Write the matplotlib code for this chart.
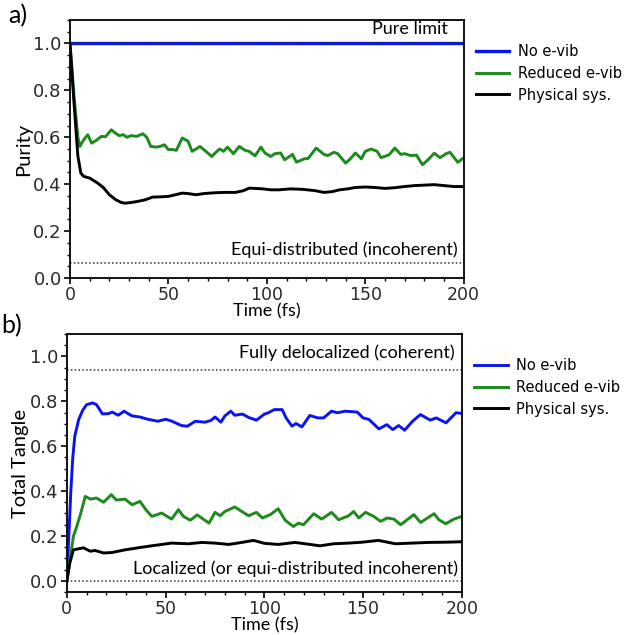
import numpy as np
import matplotlib
matplotlib.use("Agg")
import matplotlib.pyplot as plt
from matplotlib.ticker import MultipleLocator

# panel a) purity
t_pur_none = [0, 200]
pur_none = [1.0, 1.0]

t_pur_red = [0, 2, 4, 5, 7, 9, 11, 13, 16, 18, 21, 23, 25, 27, 29, 31, 34, 37, 39, 41,
             44, 46, 48, 50, 52, 54, 57, 60, 62, 64, 66, 69, 72, 74, 76, 78, 80, 83, 86, 89,
             91, 94, 97, 99, 102, 104, 107, 109, 113, 115, 119, 121, 125, 129, 131, 134, 136, 140, 142, 145,
             148, 150, 153, 156, 158, 162, 165, 168, 170, 173, 176, 179, 182, 185, 188, 191, 193, 197, 200]
pur_red = [1.0, 0.78, 0.60, 0.561, 0.59, 0.611, 0.575, 0.585, 0.604, 0.602,
           0.632, 0.618, 0.607, 0.611, 0.600, 0.607, 0.604, 0.615, 0.60, 0.561,
           0.558, 0.562, 0.568, 0.547, 0.548, 0.544, 0.597, 0.583, 0.540, 0.55,
           0.561, 0.540, 0.518, 0.535, 0.550, 0.540, 0.558, 0.530, 0.561, 0.544,
           0.540, 0.521, 0.558, 0.533, 0.518, 0.530, 0.533, 0.504, 0.527, 0.494,
           0.508, 0.510, 0.554, 0.527, 0.522, 0.536, 0.530, 0.490, 0.505, 0.533,
           0.508, 0.540, 0.550, 0.540, 0.513, 0.525, 0.554, 0.527, 0.530, 0.522,
           0.524, 0.483, 0.505, 0.532, 0.513, 0.530, 0.536, 0.493, 0.513]

t_pur_phys = [0, 2, 4, 5.5, 7, 10, 14, 17, 20, 23, 26, 28, 31, 34, 38, 42, 46, 50, 54, 57,
              60, 64, 68, 71, 75, 79, 84, 88, 91, 94, 98, 102, 106, 112, 118, 124, 129, 133, 137, 141,
              145, 150, 155, 160, 165, 170, 175, 180, 185, 190, 195, 200]
pur_phys = [1.0, 0.75, 0.52, 0.447, 0.433, 0.426, 0.405, 0.385, 0.355, 0.335,
            0.322, 0.319, 0.322, 0.326, 0.333, 0.345, 0.346, 0.348, 0.356, 0.362,
            0.360, 0.355, 0.360, 0.362, 0.364, 0.365, 0.365, 0.372, 0.383, 0.382,
            0.380, 0.376, 0.376, 0.38, 0.378, 0.373, 0.365, 0.368, 0.376, 0.380,
            0.386, 0.388, 0.386, 0.382, 0.385, 0.39, 0.394, 0.396, 0.398, 0.394,
            0.390, 0.390]

# panel b) total tangle
t_tan_none = [0, 1, 2, 3, 4, 6, 8, 10, 13, 15, 18, 21, 23, 26, 29, 31, 33, 37, 41, 44,
              46, 50, 53, 55, 58, 61, 65, 70, 73, 75, 78, 80, 83, 85, 89, 92, 96, 100, 102, 105,
              109, 111, 114, 116, 119, 123, 127, 130, 134, 137, 141, 147, 150, 153, 158, 162, 165, 168, 171, 175,
              179, 184, 187, 192, 197, 200]
tan_none = [0.0, 0.2, 0.4, 0.55, 0.644, 0.719, 0.76, 0.785, 0.793, 0.785,
            0.744, 0.745, 0.752, 0.738, 0.756, 0.745, 0.735, 0.73, 0.72, 0.715,
            0.711, 0.72, 0.712, 0.704, 0.692, 0.689, 0.711, 0.707, 0.715, 0.73,
            0.707, 0.735, 0.756, 0.738, 0.743, 0.728, 0.716, 0.743, 0.749, 0.763,
            0.763, 0.726, 0.689, 0.701, 0.686, 0.737, 0.726, 0.726, 0.756, 0.749,
            0.756, 0.752, 0.726, 0.719, 0.677, 0.696, 0.674, 0.692, 0.671, 0.711,
            0.741, 0.716, 0.726, 0.704, 0.749, 0.746]

t_tan_red = [0, 2, 3.3, 5, 7, 9.3, 12, 15, 18.6, 22.5, 25, 29.5, 33, 37, 40, 43, 48, 53, 56.5, 59,
             62.5, 66, 69, 72, 75, 77.6, 80, 85, 88.6, 92, 96, 99, 103, 107, 110.5, 114.7, 117.3, 119.8, 125, 129,
             134, 137.6, 142.7, 145.2, 147.8, 151.2, 155.4, 158.8, 162.2, 165.6, 169, 175.7, 179.1, 181.7, 185.9,
             188.4, 191.8, 196, 200]
tan_red = [0.0, 0.12, 0.198, 0.242, 0.30, 0.376, 0.364, 0.369, 0.350, 0.384,
           0.36, 0.364, 0.339, 0.354, 0.317, 0.287, 0.302, 0.275, 0.317, 0.287,
           0.27, 0.294, 0.275, 0.257, 0.305, 0.29, 0.309, 0.329, 0.309, 0.29,
           0.305, 0.28, 0.295, 0.321, 0.27, 0.242, 0.257, 0.25, 0.299, 0.275,
           0.305, 0.272, 0.29, 0.309, 0.28, 0.305, 0.287, 0.265, 0.28, 0.275,
           0.25, 0.295, 0.26, 0.275, 0.299, 0.272, 0.254, 0.275, 0.287]

t_tan_phys = [0, 1.5, 3.3, 5, 8.4, 11.8, 14.3, 18.6, 22.8, 29.5, 36, 43, 53, 61.6, 68.3, 75, 82, 88.6, 94.5, 100,
              107, 115.5, 120.6, 128.2, 135, 142.6, 149.4, 157.8, 166.3, 174.7, 183, 191.6, 200]
tan_phys = [0.0, 0.08, 0.138, 0.141, 0.147, 0.132, 0.135, 0.124, 0.126, 0.138,
            0.147, 0.156, 0.168, 0.165, 0.171, 0.168, 0.162, 0.171, 0.18, 0.167,
            0.162, 0.171, 0.165, 0.156, 0.165, 0.168, 0.172, 0.18, 0.165, 0.168,
            0.171, 0.172, 0.174]

labels = ["No e-vib", "Reduced e-vib", "Physical sys."]
colors = ["#0a14f0", "#1c8a1c", "black"]

pur_limits = [1.0, 0.0625]
tan_limits = [0.9375, 0.0]

label_font = "Lato"

fig = plt.figure(figsize=(6.25, 6.35), dpi=100)
ax_a = fig.add_axes([0.112, 0.5622, 0.630, 0.4063])
ax_b = fig.add_axes([0.107, 0.0677, 0.632, 0.4063])


def style_axes(ax, ylab, ylo):
    ax.set_xlim(0, 200)
    ax.set_ylim(ylo, 1.1)
    ax.xaxis.set_major_locator(MultipleLocator(50))
    ax.xaxis.set_minor_locator(MultipleLocator(10))
    ax.yaxis.set_major_locator(MultipleLocator(0.2))
    ax.yaxis.set_minor_locator(MultipleLocator(0.05))
    ax.tick_params(which="major", length=4, width=1.2, labelsize=13,
                   labelcolor="#2a2a2a", pad=2)
    ax.tick_params(axis="x", which="major", labelsize=12.5, pad=1.5)
    ax.tick_params(which="minor", length=2.5, width=1.0)
    for s in ax.spines.values():
        s.set_linewidth(1.3)
    ax.set_xlabel("Time (fs)", family=label_font, fontsize=13)
    ax.xaxis.set_label_coords(0.5, -0.098)
    ax.set_ylabel(ylab, family=label_font, fontsize=14.5, labelpad=1)


# a) purity
ax_a.plot(t_pur_none, pur_none, color=colors[0], lw=2.4, label=labels[0])
ax_a.plot(t_pur_red, pur_red, color=colors[1], lw=2.1, label=labels[1])
ax_a.plot(t_pur_phys, pur_phys, color=colors[2], lw=2.1, label=labels[2])
for y in pur_limits:
    ax_a.axhline(y, color="#333333", ls=(0, (1, 1.5)), lw=1.1)
ax_a.text(192, 1.06, "Pure limit", ha="right", va="center", family=label_font, fontsize=13)
ax_a.text(197, 0.12, "Equi-distributed (incoherent)", ha="right", va="center",
          family=label_font, fontsize=13)
style_axes(ax_a, "Purity", 0.0)
ax_a.legend(loc="upper left", bbox_to_anchor=(1.005, 0.945), frameon=False, fontsize=10.5,
            handlelength=2.3, handletextpad=0.6, labelspacing=0.45, borderaxespad=0.3)

# b) total tangle
ax_b.plot(t_tan_none, tan_none, color=colors[0], lw=2.1, label=labels[0])
ax_b.plot(t_tan_red, tan_red, color=colors[1], lw=2.1, label=labels[1])
ax_b.plot(t_tan_phys, tan_phys, color=colors[2], lw=2.1, label=labels[2])
for y in tan_limits:
    ax_b.axhline(y, color="#333333", ls=(0, (1, 1.5)), lw=1.1)
ax_b.text(196.5, 1.018, "Fully delocalized (coherent)", ha="right", va="center",
          family=label_font, fontsize=13)
ax_b.text(198, 0.054, "Localized (or equi-distributed incoherent)", ha="right", va="center",
          family=label_font, fontsize=13)
style_axes(ax_b, "Total Tangle", -0.05)
ax_b.legend(loc="upper left", bbox_to_anchor=(1.005, 0.945), frameon=False, fontsize=10.5,
            handlelength=2.3, handletextpad=0.6, labelspacing=0.45, borderaxespad=0.3)

fig.text(0.013, 0.975, "a)", family=label_font, fontsize=18, va="center")
fig.text(0.002, 0.487, "b)", family=label_font, fontsize=18, va="center")

fig.savefig("out.png", dpi=100)
